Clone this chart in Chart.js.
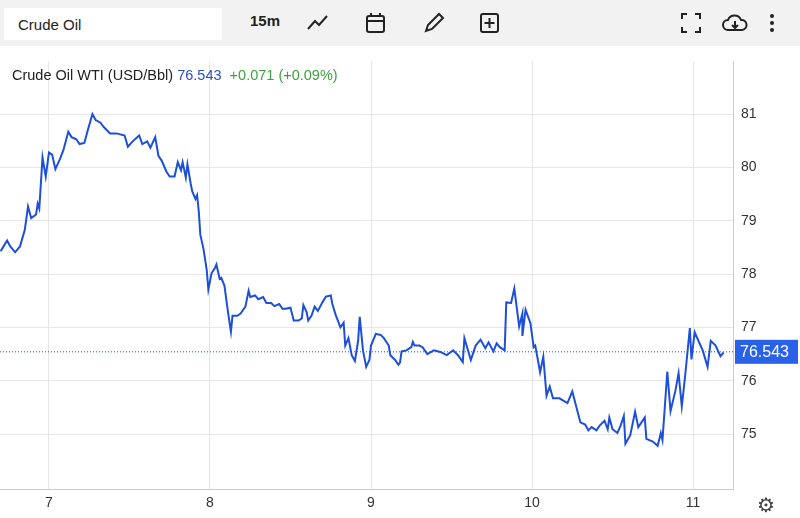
<!DOCTYPE html>
<html>
<head>
<meta charset="utf-8">
<script src="https://cdn.jsdelivr.net/npm/chart.js@4"></script>
<style>
  body { margin: 0; width: 800px; height: 518px; overflow: hidden; background: #fff; font-family: "Liberation Sans", Arial, sans-serif; }
  #bar { position: absolute; left: 0; top: 0; width: 800px; height: 46px; background: #f2f2f2; }
  #search { position: absolute; left: 4px; top: 8px; width: 218px; height: 32px; background: #fff; font-size: 15px; line-height: 34px; padding-left: 14px; box-sizing: border-box; color: #222; }
  .tb { position: absolute; top: 12px; font-size: 15px; font-weight: bold; color: #222; }
  .ic { position: absolute; top: 12px; }
  #legend { position: absolute; left: 12px; top: 67px; font-size: 14.5px; color: #222; }
  #wrap { position: absolute; left: 0; top: 45px; width: 800px; height: 473px; }
  #gear { position: absolute; left: 757px; top: 493px; font-size: 20px; color: #444; }
</style>
</head>
<body>
<div id="bar">
  <div id="search">Crude Oil</div>
  <div class="tb" style="left:250px">15m</div>
  <svg class="ic" style="left:306px" width="24" height="22"><polyline points="2,17 9,9 13,13 21,4" fill="none" stroke="#222" stroke-width="2"/></svg>
  <svg class="ic" style="left:365px" width="22" height="22"><rect x="2" y="4" width="17" height="16" rx="2" fill="none" stroke="#222" stroke-width="2"/><line x1="2" y1="9" x2="19" y2="9" stroke="#222" stroke-width="2"/><line x1="6" y1="1" x2="6" y2="5" stroke="#222" stroke-width="2"/><line x1="15" y1="1" x2="15" y2="5" stroke="#222" stroke-width="2"/></svg>
  <svg class="ic" style="left:423px" width="22" height="22"><path d="M3,19 L5,13 L16,2 L20,6 L9,17 Z" fill="none" stroke="#222" stroke-width="2"/></svg>
  <svg class="ic" style="left:479px" width="22" height="22"><rect x="2" y="2" width="17" height="18" rx="2" fill="none" stroke="#222" stroke-width="2"/><line x1="10.5" y1="6" x2="10.5" y2="16" stroke="#222" stroke-width="2"/><line x1="5.5" y1="11" x2="15.5" y2="11" stroke="#222" stroke-width="2"/></svg>
  <svg class="ic" style="left:680px" width="22" height="22"><g stroke="#222" stroke-width="2" fill="none"><path d="M2,7 V2 H7 M15,2 H20 V7 M20,15 V20 H15 M7,20 H2 V15"/></g></svg>
  <svg class="ic" style="left:722px" width="26" height="22"><path d="M6,18 A5,5 0 0 1 6,8 A7,7 0 0 1 19,8 A5,5 0 0 1 20,18 Z" fill="none" stroke="#222" stroke-width="2"/><line x1="13" y1="9" x2="13" y2="16" stroke="#222" stroke-width="2"/><polyline points="10,13 13,16 16,13" fill="none" stroke="#222" stroke-width="2"/></svg>
  <svg class="ic" style="left:768px" width="8" height="22"><circle cx="4" cy="4" r="2" fill="#222"/><circle cx="4" cy="11" r="2" fill="#222"/><circle cx="4" cy="18" r="2" fill="#222"/></svg>
</div>
<div id="wrap"><canvas id="chart" width="800" height="473"></canvas></div>
<div id="legend">Crude Oil WTI (USD/Bbl) <span style="color:#2b4fc4">76.543</span>&nbsp; <span style="color:#3da23d">+0.071 (+0.09%)</span></div>
<div id="gear">⚙</div>
<script>
// time in days (day of month), price in USD/Bbl
const times = [6.70,6.74,6.76,6.79,6.82,6.85,6.87,6.89,6.92,6.93,6.94,6.96,6.98,7.00,7.02,7.04,7.07,7.09,7.12,7.14,7.17,7.19,7.22,7.24,7.27,7.29,7.32,7.34,7.38,7.42,7.47,7.49,7.52,7.56,7.58,7.61,7.63,7.66,7.68,7.70,7.73,7.75,7.78,7.80,7.82,7.83,7.85,7.86,7.88,7.89,7.91,7.92,7.93,7.94,7.96,7.98,7.99,8.01,8.03,8.04,8.06,8.07,8.09,8.11,8.13,8.14,8.17,8.19,8.22,8.24,8.25,8.28,8.30,8.33,8.35,8.38,8.40,8.43,8.45,8.47,8.50,8.52,8.55,8.57,8.58,8.60,8.61,8.63,8.65,8.67,8.70,8.72,8.75,8.76,8.78,8.81,8.83,8.84,8.86,8.88,8.90,8.92,8.93,8.95,8.97,8.99,9.00,9.03,9.06,9.08,9.11,9.12,9.15,9.17,9.18,9.19,9.22,9.25,9.26,9.27,9.30,9.32,9.35,9.39,9.43,9.47,9.51,9.54,9.57,9.58,9.62,9.65,9.68,9.71,9.73,9.76,9.78,9.80,9.83,9.84,9.87,9.89,9.92,9.94,9.94,9.96,9.99,10.01,10.02,10.05,10.07,10.09,10.11,10.13,10.17,10.22,10.25,10.28,10.30,10.33,10.35,10.37,10.40,10.42,10.45,10.47,10.48,10.50,10.53,10.55,10.57,10.58,10.61,10.64,10.66,10.70,10.71,10.75,10.78,10.80,10.81,10.84,10.86,10.89,10.91,10.93,10.95,10.98,10.99,11.01,11.06,11.09,11.11,11.14,11.17,11.19];
const prices = [78.43,78.63,78.52,78.41,78.52,78.83,79.27,79.05,79.12,79.32,79.23,80.19,79.83,80.28,80.24,79.97,80.17,80.33,80.67,80.57,80.53,80.44,80.46,80.69,81.00,80.89,80.84,80.76,80.64,80.64,80.60,80.39,80.49,80.60,80.44,80.49,80.37,80.57,80.22,80.13,79.92,79.83,79.83,80.10,79.95,80.10,79.81,80.06,79.70,79.55,79.41,79.48,79.19,78.74,78.47,78.07,77.71,78.02,78.11,78.18,77.91,77.93,77.78,77.33,76.92,77.22,77.22,77.26,77.39,77.69,77.57,77.60,77.53,77.57,77.46,77.46,77.40,77.44,77.35,77.35,77.37,77.13,77.13,77.17,77.42,77.29,77.13,77.22,77.39,77.31,77.48,77.58,77.60,77.44,77.24,77.00,77.09,76.66,76.80,76.48,76.37,76.75,77.20,76.57,76.26,76.39,76.66,76.88,76.86,76.80,76.66,76.48,76.39,76.30,76.34,76.55,76.57,76.63,76.73,76.66,76.66,76.63,76.50,76.57,76.54,76.48,76.57,76.48,76.35,76.80,76.39,76.66,76.77,76.61,76.72,76.55,76.70,76.63,76.57,77.47,77.46,77.73,77.02,77.26,76.84,77.33,77.08,76.63,76.66,76.16,76.45,75.72,75.89,75.67,75.67,75.58,75.80,75.45,75.22,75.18,75.07,75.13,75.07,75.16,75.25,75.09,75.31,75.09,75.02,75.16,75.34,74.82,74.98,75.42,75.13,75.31,74.91,74.86,74.78,75.02,74.89,76.17,75.43,75.81,76.14,75.52,76.07,76.99,76.40,76.91,76.57,76.26,76.75,76.66,76.46,76.53];
const lastPrice = 76.543;
const dayTicks = [7, 8, 9, 10, 11];
const priceTicks = [75, 76, 77, 78, 79, 80, 81];

const xMin = 6.696, xMax = 11.248;

const lastLabel = {
    id: 'lastLabel',
    afterDraw(chart) {
        const ctx = chart.ctx;
        const y = chart.scales.y.getPixelForValue(lastPrice);
        const x = chart.chartArea.right + 2;
        ctx.save();
        ctx.fillStyle = '#2962e8';
        ctx.fillRect(x, y - 12, 63, 24);
        ctx.fillStyle = '#fff';
        ctx.font = '16px "Liberation Sans", Arial';
        ctx.textBaseline = 'middle';
        ctx.fillText(lastPrice.toFixed(3), x + 5, y + 1);
        ctx.restore();
    }
};

new Chart(document.getElementById('chart'), {
    type: 'line',
    data: {
        datasets: [
            {
                data: times.map((t, i) => ({ x: t, y: prices[i] })),
                borderColor: '#1d4fd8',
                borderWidth: 2,
                pointRadius: 0,
                tension: 0
            },
            {
                data: [{ x: xMin, y: lastPrice }, { x: xMax, y: lastPrice }],
                borderColor: '#2a4fb8',
                borderWidth: 1,
                borderDash: [1, 2],
                pointRadius: 0
            }
        ]
    },
    options: {
        responsive: false,
        animation: false,
        layout: { padding: 0 },
        plugins: { legend: { display: false }, tooltip: { enabled: false } },
        scales: {
            x: {
                type: 'linear',
                min: xMin,
                max: xMax,
                afterFit: (s) => { s.height = 29; },
                afterBuildTicks: (s) => { s.ticks = dayTicks.map(v => ({ value: v })); },
                grid: { color: '#e6e6e6', drawTicks: false },
                border: { color: '#cccccc' },
                ticks: { color: '#333', font: { size: 14, family: '"Liberation Sans", Arial' }, padding: 6 }
            },
            y: {
                position: 'right',
                min: 73.97,
                max: 81.99,
                afterFit: (s) => { s.width = 67; },
                afterBuildTicks: (s) => { s.ticks = priceTicks.map(v => ({ value: v })); },
                grid: { color: '#e6e6e6', drawTicks: false },
                border: { color: '#cccccc' },
                ticks: { color: '#333', font: { size: 14, family: '"Liberation Sans", Arial' }, padding: 8 }
            }
        }
    },
    plugins: [lastLabel]
});
</script>
</body>
</html>
